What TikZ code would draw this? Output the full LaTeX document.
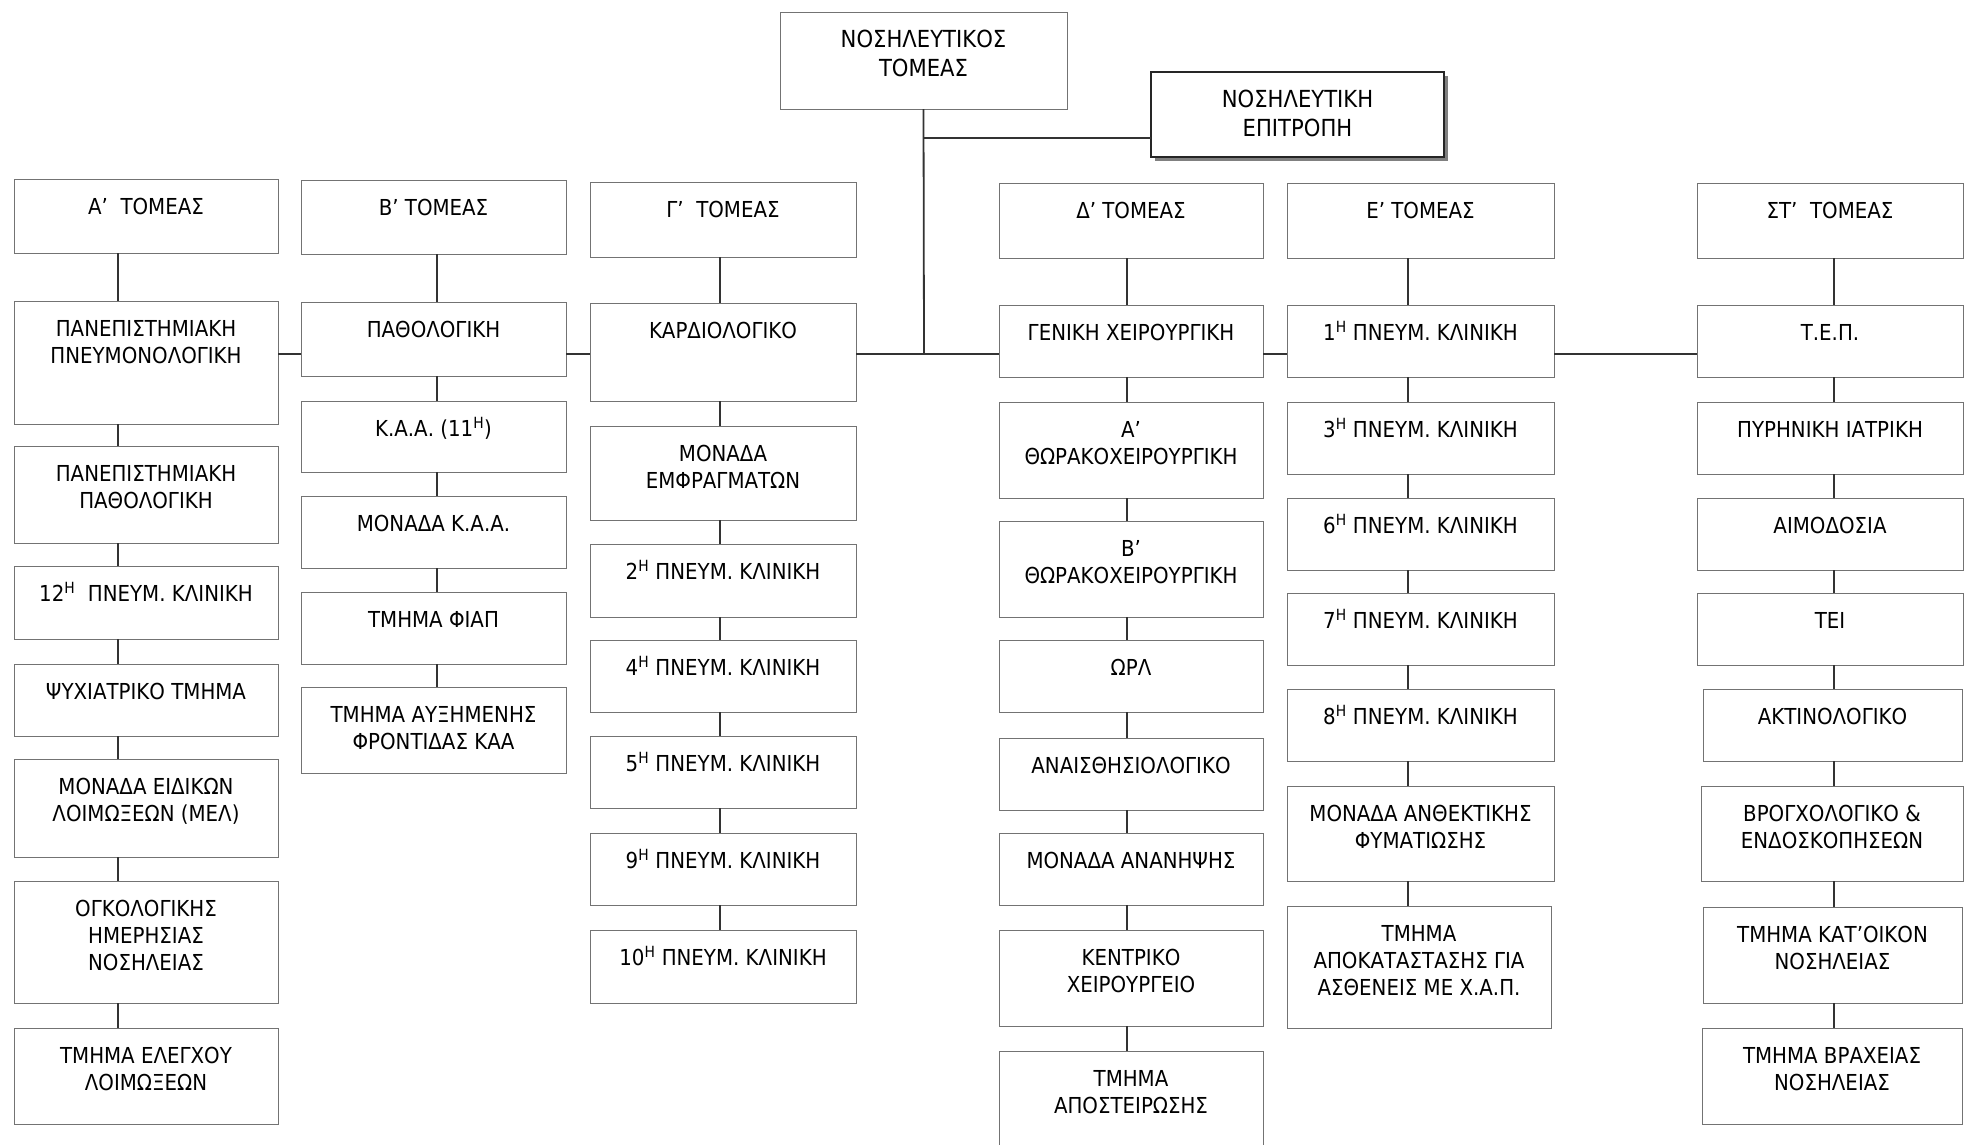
\documentclass[tikz,border=0pt]{standalone}
\usepackage{fontspec}
\setmainfont{DejaVu Sans}[FakeStretch=0.9]
\usetikzlibrary{shadows}
\tikzset{
  ubox/.style={draw=black!55, line width=1pt, fill=white, inner sep=0pt, outer sep=0pt,
    font=\fontsize{22}{27}\selectfont},
  topfont/.style={font=\fontsize{23.5}{29}\selectfont},
  conn/.style={draw=black!80, line width=1.8pt},
  combox/.style={ubox, draw=black!85, line width=2pt,
    drop shadow={shadow xshift=4pt, shadow yshift=-4pt, fill=black!50, opacity=1}}
}
% name, x1, y1, x2, y2, text
\newcommand\ub[7][]{\node[ubox,anchor=north west,#1] (#2) at (#3,#4)
  {\parbox[c][\dimexpr #6pt-#4pt\relax][t]{\dimexpr #5pt-#3pt\relax}{\centering\rule{0pt}{35pt}#7}};}
\newcommand\sH{\textsuperscript{Η}}
\begin{document}
\begin{tikzpicture}[x=1pt,y=-1pt]
\fill[white] (0,0) rectangle (1965,1144);
\useasboundingbox (0,0) rectangle (1965,1144);

% top
\ub[topfont]{T}{780}{12}{1067}{109}{ΝΟΣΗΛΕΥΤΙΚΟΣ\\ΤΟΜΕΑΣ}
\ub[combox,topfont]{C}{1151}{72}{1444}{157}{ΝΟΣΗΛΕΥΤΙΚΗ\\ΕΠΙΤΡΟΠΗ}

% column A
\ub{A0}{14}{179}{278}{253}{Α’\ \ ΤΟΜΕΑΣ}
\ub{A1}{14}{301}{278}{424}{ΠΑΝΕΠΙΣΤΗΜΙΑΚΗ\\ΠΝΕΥΜΟΝΟΛΟΓΙΚΗ}
\ub{A2}{14}{446}{278}{543}{ΠΑΝΕΠΙΣΤΗΜΙΑΚΗ\\ΠΑΘΟΛΟΓΙΚΗ}
\ub{A3}{14}{566}{278}{639}{12\sH\ \ ΠΝΕΥΜ. ΚΛΙΝΙΚΗ}
\ub{A4}{14}{664}{278}{736}{ΨΥΧΙΑΤΡΙΚΟ ΤΜΗΜΑ}
\ub{A5}{14}{759}{278}{857}{ΜΟΝΑΔΑ ΕΙΔΙΚΩΝ\\ΛΟΙΜΩΞΕΩΝ (ΜΕΛ)}
\ub{A6}{14}{881}{278}{1003}{ΟΓΚΟΛΟΓΙΚΗΣ\\ΗΜΕΡΗΣΙΑΣ\\ΝΟΣΗΛΕΙΑΣ}
\ub{A7}{14}{1028}{278}{1124}{ΤΜΗΜΑ ΕΛΕΓΧΟΥ\\ΛΟΙΜΩΞΕΩΝ}

% column B
\ub{B0}{301}{180}{566}{254}{Β’ ΤΟΜΕΑΣ}
\ub{B1}{301}{302}{566}{376}{ΠΑΘΟΛΟΓΙΚΗ}
\ub{B2}{301}{401}{566}{472}{Κ.Α.Α. (11\sH)}
\ub{B3}{301}{496}{566}{568}{ΜΟΝΑΔΑ Κ.Α.Α.}
\ub{B4}{301}{592}{566}{664}{ΤΜΗΜΑ ΦΙΑΠ}
\ub{B5}{301}{687}{566}{773}{ΤΜΗΜΑ ΑΥΞΗΜΕΝΗΣ\\ΦΡΟΝΤΙΔΑΣ ΚΑΑ}

% column G
\ub{G0}{590}{182}{856}{257}{Γ’\ \ ΤΟΜΕΑΣ}
\ub{G1}{590}{303}{856}{401}{ΚΑΡΔΙΟΛΟΓΙΚΟ}
\ub{G2}{590}{426}{856}{520}{ΜΟΝΑΔΑ\\ΕΜΦΡΑΓΜΑΤΩΝ}
\ub{G3}{590}{544}{856}{617}{2\sH\ ΠΝΕΥΜ. ΚΛΙΝΙΚΗ}
\ub{G4}{590}{640}{856}{712}{4\sH\ ΠΝΕΥΜ. ΚΛΙΝΙΚΗ}
\ub{G5}{590}{736}{856}{808}{5\sH\ ΠΝΕΥΜ. ΚΛΙΝΙΚΗ}
\ub{G6}{590}{833}{856}{905}{9\sH\ ΠΝΕΥΜ. ΚΛΙΝΙΚΗ}
\ub{G7}{590}{930}{856}{1003}{10\sH\ ΠΝΕΥΜ. ΚΛΙΝΙΚΗ}

% column D
\ub{D0}{999}{183}{1263}{258}{Δ’ ΤΟΜΕΑΣ}
\ub{D1}{999}{305}{1263}{377}{ΓΕΝΙΚΗ ΧΕΙΡΟΥΡΓΙΚΗ}
\ub{D2}{999}{402}{1263}{498}{Α’\\ΘΩΡΑΚΟΧΕΙΡΟΥΡΓΙΚΗ}
\ub{D3}{999}{521}{1263}{617}{Β’\\ΘΩΡΑΚΟΧΕΙΡΟΥΡΓΙΚΗ}
\ub{D4}{999}{640}{1263}{712}{ΩΡΛ}
\ub{D5}{999}{738}{1263}{810}{ΑΝΑΙΣΘΗΣΙΟΛΟΓΙΚΟ}
\ub{D6}{999}{833}{1263}{905}{ΜΟΝΑΔΑ ΑΝΑΝΗΨΗΣ}
\ub{D7}{999}{930}{1263}{1026}{ΚΕΝΤΡΙΚΟ\\ΧΕΙΡΟΥΡΓΕΙΟ}
\ub{D8}{999}{1051}{1263}{1160}{ΤΜΗΜΑ\\ΑΠΟΣΤΕΙΡΩΣΗΣ}

% column E
\ub{E0}{1287}{183}{1554}{258}{Ε’ ΤΟΜΕΑΣ}
\ub{E1}{1287}{305}{1554}{377}{1\sH\ ΠΝΕΥΜ. ΚΛΙΝΙΚΗ}
\ub{E2}{1287}{402}{1554}{474}{3\sH\ ΠΝΕΥΜ. ΚΛΙΝΙΚΗ}
\ub{E3}{1287}{498}{1554}{570}{6\sH\ ΠΝΕΥΜ. ΚΛΙΝΙΚΗ}
\ub{E4}{1287}{593}{1554}{665}{7\sH\ ΠΝΕΥΜ. ΚΛΙΝΙΚΗ}
\ub{E5}{1287}{689}{1554}{761}{8\sH\ ΠΝΕΥΜ. ΚΛΙΝΙΚΗ}
\ub{E6}{1287}{786}{1554}{881}{ΜΟΝΑΔΑ ΑΝΘΕΚΤΙΚΗΣ\\ΦΥΜΑΤΙΩΣΗΣ}
\ub{E7}{1287}{906}{1551}{1028}{ΤΜΗΜΑ\\ΑΠΟΚΑΤΑΣΤΑΣΗΣ ΓΙΑ\\ΑΣΘΕΝΕΙΣ ΜΕ Χ.Α.Π.}

% column S
\ub{S0}{1697}{183}{1963}{258}{ΣΤ’\ \ ΤΟΜΕΑΣ}
\ub{S1}{1697}{305}{1963}{377}{Τ.Ε.Π.}
\ub{S2}{1697}{402}{1963}{474}{ΠΥΡΗΝΙΚΗ ΙΑΤΡΙΚΗ}
\ub{S3}{1697}{498}{1963}{570}{ΑΙΜΟΔΟΣΙΑ}
\ub{S4}{1697}{593}{1963}{665}{ΤΕΙ}
\ub{S5}{1703}{689}{1962}{761}{ΑΚΤΙΝΟΛΟΓΙΚΟ}
\ub{S6}{1701}{786}{1963}{881}{ΒΡΟΓΧΟΛΟΓΙΚΟ \&\\ΕΝΔΟΣΚΟΠΗΣΕΩΝ}
\ub{S7}{1703}{907}{1962}{1003}{ΤΜΗΜΑ ΚΑΤ’ΟΙΚΟΝ\\ΝΟΣΗΛΕΙΑΣ}
\ub{S8}{1702}{1028}{1962}{1124}{ΤΜΗΜΑ ΒΡΑΧΕΙΑΣ\\ΝΟΣΗΛΕΙΑΣ}

% column connector axes
\coordinate (cA) at (118,0);
\coordinate (cB) at (437,0);
\coordinate (cG) at (720,0);
\coordinate (cD) at (1127,0);
\coordinate (cE) at (1408,0);
\coordinate (cS) at (1834,0);
\coordinate (hub) at (924,354);
\coordinate (jc) at (924,138);

\foreach \a/\b in {A0/A1,A1/A2,A2/A3,A3/A4,A4/A5,A5/A6,A6/A7}
  \draw[conn] (\a.south -| cA) -- (\b.north -| cA);
\foreach \a/\b in {B0/B1,B1/B2,B2/B3,B3/B4,B4/B5}
  \draw[conn] (\a.south -| cB) -- (\b.north -| cB);
\foreach \a/\b in {G0/G1,G1/G2,G2/G3,G3/G4,G4/G5,G5/G6,G6/G7}
  \draw[conn] (\a.south -| cG) -- (\b.north -| cG);
\foreach \a/\b in {D0/D1,D1/D2,D2/D3,D3/D4,D4/D5,D5/D6,D6/D7,D7/D8}
  \draw[conn] (\a.south -| cD) -- (\b.north -| cD);
\foreach \a/\b in {E0/E1,E1/E2,E2/E3,E3/E4,E4/E5,E5/E6,E6/E7}
  \draw[conn] (\a.south -| cE) -- (\b.north -| cE);
\foreach \a/\b in {S0/S1,S1/S2,S2/S3,S3/S4,S4/S5,S5/S6,S6/S7,S7/S8}
  \draw[conn] (\a.south -| cS) -- (\b.north -| cS);

% main connectors
\draw[conn] (T.south) -- (hub);
\draw[conn] (jc) -- (C.west |- jc);
\draw[conn] (A1.east |- hub) -- (B1.west |- hub);
\draw[conn] (B1.east |- hub) -- (G1.west |- hub);
\draw[conn] (G1.east |- hub) -- (D1.west |- hub);
\draw[conn] (D1.east |- hub) -- (E1.west |- hub);
\draw[conn] (E1.east |- hub) -- (S1.west |- hub);
\end{tikzpicture}
\end{document}
